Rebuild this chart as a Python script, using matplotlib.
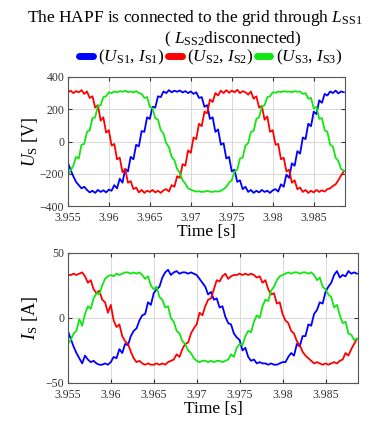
import numpy as np
import matplotlib
matplotlib.use('Agg')
import matplotlib.pyplot as plt
from matplotlib.lines import Line2D

plt.rcParams['font.family'] = 'Liberation Serif'
plt.rcParams['mathtext.fontset'] = 'custom'
plt.rcParams['mathtext.rm'] = 'Liberation Serif'
plt.rcParams['mathtext.it'] = 'Liberation Serif:italic'

# time samples (one every 1/3 ms)
t = 3.955 + np.arange(102) / 3000.0

# source voltages [V]
us1 = [-130, -175, -215, -250, -270, -290, -280, -300, -315, -305, -318, -300, -312, -302, -315, -298,
       -305, -270, -290, -230, -255, -170, -185, -95, -110, -20, -30, 65, 60, 150, 140, 215, 210, 280,
       275, 310, 300, 318, 305, 315, 308, 316, 304, 312, 300, 310, 295, 305, 270, 275, 215, 225, 140,
       150, 60, 75, -20, -10, -105, -95, -185, -175, -250, -240, -295, -280, -312, -300, -318, -305,
       -315, -300, -312, -305, -318, -302, -295, -310, -265, -280, -205, -225, -135, -150, -60, -75,
       25, 15, 110, 95, 185, 170, 255, 240, 295, 285, 310, 300, 315, 298, 310, 305]
us2 = [305, 315, 300, 312, 305, 318, 295, 310, 270, 280, 210, 225, 130, 150, 55, 70, -25, -15, -110,
       -100, -190, -170, -255, -245, -295, -285, -315, -300, -318, -305, -312, -300, -315, -305, -318,
       -302, -295, -310, -270, -280, -215, -225, -140, -150, -55, -70, 25, 15, 110, 95, 185, 175, 260,
       245, 300, 285, 315, 300, 318, 302, 315, 305, 320, 300, 312, 305, 290, 310, 265, 280, 210, 220,
       135, 155, 60, 70, -20, -15, -110, -100, -185, -175, -255, -240, -295, -285, -312, -300, -318,
       -305, -315, -300, -312, -302, -310, -295, -290, -275, -265, -240, -210, -185]
us3 = [-210, -180, -150, -95, -105, -20, -15, 60, 70, 145, 150, 220, 225, 275, 280, 305, 300, 310, 305,
       312, 308, 314, 306, 310, 304, 312, 300, 295, 270, 275, 215, 205, 145, 135, 70, 50, -10, -35,
       -95, -115, -170, -195, -240, -260, -290, -298, -305, -310, -308, -312, -310, -306, -310, -312,
       -308, -310, -305, -295, -280, -255, -240, -185, -175, -105, -100, -25, -10, 60, 65, 140, 150,
       215, 225, 275, 280, 305, 302, 310, 306, 312, 308, 310, 305, 312, 308, 310, 295, 300, 265, 270,
       205, 215, 140, 145, 70, 60, -20, -30, -100, -120, -170, -180]

# source currents [A]
is1 = [-10, -16, -22, -27, -31, -35, -29, -32, -34, -33, -35, -36, -36, -35, -36, -34, -30, -31, -24,
       -27, -20, -21, -14, -10, -8, -2, 2, 3, 12, 10, 19, 22, 24, 31, 35, 37, 33, 35, 36, 34, 35, 35,
       34, 35, 34, 33, 30, 27, 24, 18, 20, 14, 15, 8, 9, 1, -4, -5, -12, -15, -17, -25, -23, -30, -33,
       -32, -35, -34, -35, -35, -36, -35, -36, -36, -35, -34, -34, -30, -27, -29, -20, -22, -14, -14,
       -5, -6, 3, 6, 12, 11, 20, 24, 27, 33, 36, 31, 33, 32, 36, 34, 35, 34]
is2 = [33, 33, 34, 33, 34, 35, 32, 27, 29, 22, 19, 21, 14, 12, 4, 10, -2, -7, -5, -14, -18, -20, -26,
       -31, -34, -33, -35, -36, -35, -36, -36, -35, -36, -35, -36, -34, -33, -32, -28, -30, -24, -20,
       -19, -12, -8, -5, 4, 2, 9, 14, 15, 22, 29, 28, 32, 34, 30, 32, 33, 33, 34, 33, 34, 33, 34, 33,
       31, 32, 27, 29, 22, 18, 19, 11, 12, 3, -2, -4, -10, -12, -18, -21, -26, -29, -31, -33, -35, -34,
       -35, -36, -35, -36, -35, -34, -35, -33, -32, -27, -29, -24, -20, -16]
is3 = [-20, -17, -12, -10, -1, -6, 3, 9, 7, 15, 19, 18, 25, 30, 32, 33, 32, 34, 33, 34, 35, 35, 34,
       35, 34, 35, 33, 30, 32, 25, 22, 24, 16, 14, 8, 9, 0, -3, -10, -12, -18, -20, -25, -27, -31, -33,
       -34, -33, -33, -34, -33, -34, -33, -33, -34, -33, -32, -28, -30, -23, -20, -21, -14, -10, -11,
       -3, 2, 0, 9, 14, 13, 21, 24, 29, 32, 33, 34, 35, 34, 35, 35, 34, 35, 35, 34, 35, 33, 29, 31,
       24, 22, 18, 16, 8, 10, 2, -4, -3, -12, -13, -17, -16]

colors = ['#0000ff', '#ff0000', '#11e611']
xticks = [3.955, 3.96, 3.965, 3.97, 3.975, 3.98, 3.985]
xticklabels = ['3.955', '3.96', '3.965', '3.97', '3.975', '3.98', '3.985']

fig = plt.figure(figsize=(3.79, 4.25), dpi=100)
ax1 = fig.add_axes([0.179, 0.515, 0.731, 0.304])
ax2 = fig.add_axes([0.179, 0.099, 0.766, 0.306])

for ax, series in ((ax1, (us1, us2, us3)), (ax2, (is1, is2, is3))):
    for y, c in zip(series, colors):
        ax.plot(t, y, color=c, lw=1.3)
    ax.set_xlim(3.955, 3.9888)
    ax.set_xticks(xticks)
    ax.set_xticklabels(xticklabels)
    ax.grid(True, color='#d9d9d9', lw=0.7)
    ax.tick_params(direction='in', top=True, right=True, labelsize=8.5, length=3,
                   colors='#333333')
    ax.tick_params(axis='x', pad=4.5)
    ax.tick_params(axis='y', pad=2.5)
    for s in ax.spines.values():
        s.set_color('#555555')
        s.set_linewidth(0.8)
    ax.set_xlabel('Time [s]', fontsize=12.5, labelpad=0)

ax1.set_ylim(-400, 400)
ax1.set_yticks([-400, -200, 0, 200, 400])
ax1.set_ylabel(r'$U_{\mathrm{S}}$ [V]', fontsize=13, labelpad=0)
ax2.set_ylim(-50, 50)
ax2.set_yticks([-50, 0, 50])
ax2.set_ylabel(r'$I_{\mathrm{S}}$ [A]', fontsize=13, labelpad=4)

fig.text(0.515, 0.958, r'The HAPF is connected to the grid through $L_{\mathrm{SS1}}$',
         ha='center', va='center', fontsize=12.5)
fig.text(0.615, 0.908, r'( $L_{\mathrm{SS2}}$disconnected)', ha='center', va='center', fontsize=12.5)

labels = [r'($U_{\mathrm{S1}}$, $I_{\mathrm{S1}}$)', r'($U_{\mathrm{S2}}$, $I_{\mathrm{S2}}$)',
          r'($U_{\mathrm{S3}}$, $I_{\mathrm{S3}}$)']
handles = [Line2D([], [], color=c, lw=5, solid_capstyle='round') for c in colors]
fig.legend(handles, labels, loc='center', bbox_to_anchor=(0.555, 0.864), ncol=3, frameon=False,
           fontsize=12.5, handlelength=0.8, handletextpad=0.3, columnspacing=0.2, borderpad=0)

fig.savefig('out.png', dpi=100)
